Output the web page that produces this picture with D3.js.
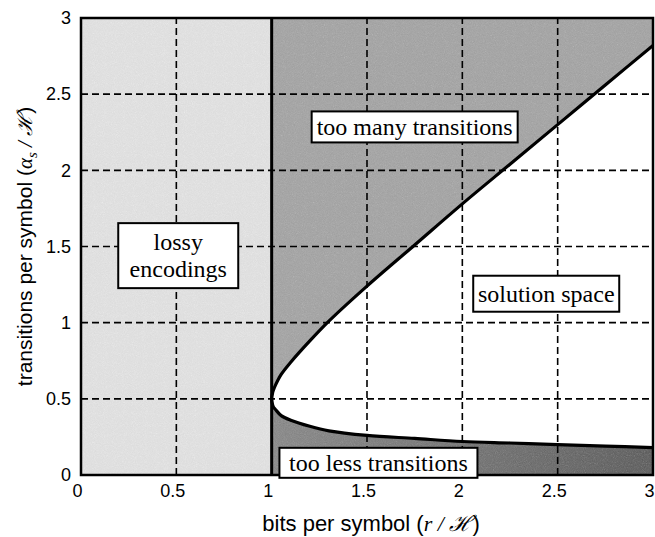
<!DOCTYPE html>
<html>
<head>
<meta charset="utf-8">
<script src="https://cdnjs.cloudflare.com/ajax/libs/d3/7.8.5/d3.min.js"></script>
<style>
  body { margin: 0; background: #fff; }
  text { fill: #000; }
</style>
</head>
<body>
<div id="chart"></div>
<script>
'use strict';

// tick values on both axes
const xTicks = [0, 0.5, 1, 1.5, 2, 2.5, 3];
const yTicks = [0, 0.5, 1, 1.5, 2, 2.5, 3];

// boundary of the solution space
const boundX = [1, 1.005, 1.01, 1.02, 1.05, 1.1, 1.2, 1.3, 1.5, 1.75, 2, 2.25, 2.5, 2.75, 3];
const upperY = [0.5, 0.54, 0.56, 0.59, 0.66, 0.74, 0.88, 1.01, 1.24, 1.51, 1.78, 2.04, 2.30, 2.56, 2.82];
const lowerY = [0.5, 0.46, 0.445, 0.43, 0.39, 0.36, 0.32, 0.29, 0.26, 0.24, 0.22, 0.21, 0.20, 0.19, 0.18];

// region labels
const labelLossy = ['lossy', 'encodings'];
const labelMany = ['too many transitions'];
const labelSolution = ['solution space'];
const labelLess = ['too less transitions'];

const svg = d3.select('#chart')
  .append('svg')
  .attr('width', 655)
  .attr('height', 537);

const x = d3.scaleLinear().domain([0, 3]).range([81, 653]);
const y = d3.scaleLinear().domain([0, 3]).range([475, 18]);

const defs = svg.append('defs');
defs.append('clipPath').attr('id', 'plotClip')
  .append('rect')
  .attr('x', x(0)).attr('y', y(3))
  .attr('width', x(3) - x(0)).attr('height', y(0) - y(3));

const lessGrad = defs.append('linearGradient').attr('id', 'lessGrad')
  .attr('x1', '0%').attr('x2', '100%');
lessGrad.append('stop').attr('offset', '0%').attr('stop-color', '#989898');
lessGrad.append('stop').attr('offset', '100%').attr('stop-color', '#767676');

// scanned halftone look
const grain = defs.append('filter').attr('id', 'grain')
  .attr('x', 0).attr('y', 0).attr('width', '100%').attr('height', '100%');
grain.append('feTurbulence')
  .attr('type', 'fractalNoise').attr('baseFrequency', 0.9)
  .attr('numOctaves', 2).attr('seed', 4).attr('result', 'noise');
grain.append('feColorMatrix')
  .attr('in', 'noise').attr('type', 'saturate').attr('values', 0).attr('result', 'gn');
grain.append('feComposite')
  .attr('in', 'SourceGraphic').attr('in2', 'gn')
  .attr('operator', 'arithmetic')
  .attr('k1', 0).attr('k2', 1).attr('k3', 0.22).attr('k4', -0.11);

const plot = svg.append('g').attr('clip-path', 'url(#plotClip)');
const fills = plot.append('g').attr('filter', 'url(#grain)');

// lossy region
fills.append('rect')
  .attr('x', x(0)).attr('y', y(3))
  .attr('width', x(1) - x(0)).attr('height', y(0) - y(3))
  .attr('fill', '#e6e6e6');

// too many transitions (above 0.5) and too less (below 0.5)
fills.append('rect')
  .attr('x', x(1)).attr('y', y(3))
  .attr('width', x(3) - x(1)).attr('height', y(0.5) - y(3))
  .attr('fill', '#afafaf');
fills.append('rect')
  .attr('x', x(1)).attr('y', y(0.5))
  .attr('width', x(3) - x(1)).attr('height', y(0) - y(0.5))
  .attr('fill', 'url(#lessGrad)');

// boundary points: lower branch reversed, then upper branch
const lowerPts = boundX.map((d, i) => [d, lowerY[i]]).reverse();
const upperPts = boundX.map((d, i) => [d, upperY[i]]).slice(1);
const boundPts = lowerPts.concat(upperPts);

const line = d3.line()
  .x(d => x(d[0]))
  .y(d => y(d[1]))
  .curve(d3.curveCatmullRom.alpha(0.5));

// solution space
plot.append('path')
  .attr('d', line(boundPts) + 'Z')
  .attr('fill', '#ffffff');

// dashed grid
plot.selectAll('.vgrid')
  .data(xTicks.filter(d => d > 0 && d < 3 && d !== 1))
  .enter().append('line')
  .attr('x1', d => x(d)).attr('x2', d => x(d))
  .attr('y1', y(0)).attr('y2', y(3))
  .attr('stroke', '#000').attr('stroke-width', 1.6)
  .attr('stroke-dasharray', '7,4');

plot.selectAll('.hgrid')
  .data(yTicks.filter(d => d > 0 && d < 3))
  .enter().append('line')
  .attr('x1', x(0)).attr('x2', x(3))
  .attr('y1', d => y(d)).attr('y2', d => y(d))
  .attr('stroke', '#000').attr('stroke-width', 1.6)
  .attr('stroke-dasharray', '7,4');

// r/H = 1 boundary
plot.append('line')
  .attr('x1', x(1)).attr('x2', x(1))
  .attr('y1', y(0)).attr('y2', y(3))
  .attr('stroke', '#000').attr('stroke-width', 3);

// curve
plot.append('path')
  .attr('d', line(boundPts))
  .attr('fill', 'none')
  .attr('stroke', '#000')
  .attr('stroke-width', 3.2)
  .attr('stroke-linejoin', 'round');

// frame
svg.append('rect')
  .attr('x', x(0)).attr('y', y(3))
  .attr('width', x(3) - x(0)).attr('height', y(0) - y(3))
  .attr('fill', 'none')
  .attr('stroke', '#000')
  .attr('stroke-width', 2.5);

// labelled boxes
function addBox(lines, cx, cy, w, h) {
  const g = svg.append('g');
  g.append('rect')
    .attr('x', x(cx) - w / 2).attr('y', y(cy) - h / 2)
    .attr('width', w).attr('height', h)
    .attr('fill', '#fff')
    .attr('stroke', '#000')
    .attr('stroke-width', 2);
  const lh = 27;
  g.selectAll('text')
    .data(lines)
    .enter().append('text')
    .attr('x', x(cx))
    .attr('y', (d, i) => y(cy) + (i - (lines.length - 1) / 2) * lh)
    .attr('dy', '0.33em')
    .attr('text-anchor', 'middle')
    .style('font-family', '"Liberation Serif", "Times New Roman", serif')
    .style('font-size', '24px')
    .text(d => d);
}

addBox(labelLossy, 0.51, 1.44, 120, 65);
addBox(labelMany, 1.75, 2.285, 206, 31);
addBox(labelSolution, 2.44, 1.19, 146, 36);
addBox(labelLess, 1.56, 0.08, 198, 30);

// axes (labels only)
const xAxis = d3.axisBottom(x).tickValues(xTicks).tickSize(0).tickPadding(9)
  .tickFormat(d3.format('~g'));
const gx = svg.append('g')
  .attr('transform', `translate(-4, ${y(0)})`)
  .call(xAxis);
gx.select('.domain').remove();
gx.selectAll('text')
  .style('font-family', '"Liberation Sans", Arial, sans-serif')
  .style('font-size', '18px');

const yAxis = d3.axisLeft(y).tickValues(yTicks).tickSize(0).tickPadding(10)
  .tickFormat(d3.format('~g'));
const gy = svg.append('g')
  .attr('transform', `translate(${x(0)}, 0)`)
  .call(yAxis);
gy.select('.domain').remove();
gy.selectAll('text')
  .style('font-family', '"Liberation Sans", Arial, sans-serif')
  .style('font-size', '18px');

// axis titles
const xt = svg.append('text')
  .attr('x', 371)
  .attr('y', 531)
  .attr('text-anchor', 'middle')
  .style('font-family', '"Liberation Sans", Arial, sans-serif')
  .style('font-size', '22px');
xt.append('tspan').text('bits per symbol  (');
xt.append('tspan').style('font-family', '"Liberation Serif", serif').style('font-style', 'italic').text('r');
xt.append('tspan').style('font-family', '"Liberation Serif", serif').style('font-style', 'italic').text(' / ℋ');
xt.append('tspan').text(')');

const yt = svg.append('text')
  .attr('transform', `translate(32, ${(y(0) + y(3)) / 2}) rotate(-90)`)
  .attr('text-anchor', 'middle')
  .style('font-family', '"Liberation Sans", Arial, sans-serif')
  .style('font-size', '21px');
yt.append('tspan').text('transitions per symbol  (');
yt.append('tspan').style('font-family', '"Liberation Serif", serif').style('font-style', 'italic').text('α');
yt.append('tspan').style('font-family', '"Liberation Serif", serif').style('font-style', 'italic')
  .style('font-size', '15px').attr('dy', 5).text('s');
yt.append('tspan').style('font-family', '"Liberation Serif", serif').style('font-style', 'italic')
  .attr('dy', -5).text(' / ℋ');
yt.append('tspan').text(')');
</script>
</body>
</html>
